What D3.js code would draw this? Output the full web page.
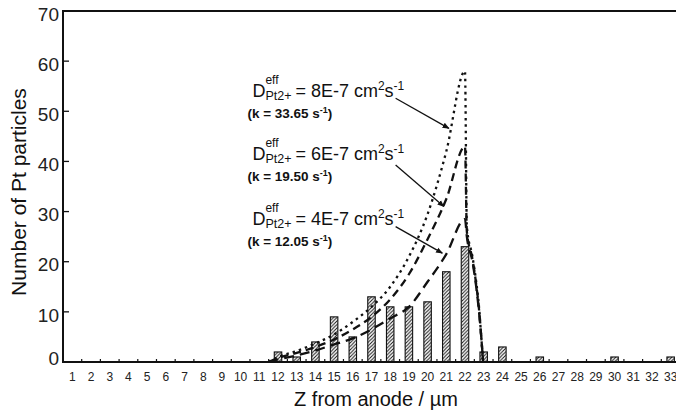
<!DOCTYPE html>
<html>
<head>
<meta charset="utf-8">
<script src="https://cdn.jsdelivr.net/npm/d3@7"></script>
<style>
  html, body { margin: 0; padding: 0; background: #fff; }
  svg { display: block; font-family: Arial, "Liberation Sans", Helvetica, sans-serif; }
</style>
</head>
<body>
<svg id="chart" width="676" height="413"></svg>
<script>
// Z positions (µm from anode) shown on the axis
const zLabels = [1,2,3,4,5,6,7,8,9,10,11,12,13,14,15,16,17,18,19,20,21,22,23,24,25,26,27,28,29,30,31,32,33];
const yTicks = [0,10,20,30,40,50,60,70];

// Histogram of counted Pt particles
const barZ     = [12,13,14,15,16,17,18,19,20,21,22,23,24,26,30,33];
const barCount = [ 2, 1, 4, 9, 5,13,11,11,12,18,23, 2, 3, 1, 1, 1];

// Simulated particle profiles for three effective diffusivities
const curveZ  = [11.5, 12, 13, 14, 15, 16, 17, 18, 19, 20, 21, 22, 22.1, 22.4, 22.6, 22.75, 22.87, 22.97];
const curveD8 = [0, 1.0, 2.2, 3.7, 5.5, 8.0, 11.0, 15.0, 21.0, 29.5, 42.0, 58.0, 27, 21, 16, 11, 5, 0];
const curveD6 = [0, 0.8, 1.8, 3.0, 4.5, 6.5, 9.0, 12.5, 17.5, 24.5, 32.5, 43.0, 26, 20.5, 15.5, 10.5, 5, 0];
const curveD4 = [0, 0.5, 1.3, 2.3, 3.5, 4.7, 6.5, 8.7, 11.0, 16.0, 21.5, 28.5, 25, 20, 15, 10, 5, 0];

// Annotation labels: diffusivity, rate constant, text anchor and arrow (data units)
const annDiff  = ["8E-7", "6E-7", "4E-7"];
const annK     = ["33.65", "19.50", "12.05"];
const annTextZ = [10.63, 10.63, 10.63];
const annTextV = [52.9, 40.3, 27.3];
const annFromZ = [18.29, 18.29, 18.29];
const annFromV = [52.6, 39.3, 27.0];
const annToZ   = [21.14, 20.87, 20.79];
const annToV   = [46.6, 31.0, 21.7];

const svg = d3.select("#chart");
const plotLeft = 63, plotRight = 680, plotTop = 11, plotBottom = 362;

const x = d3.scaleBand().domain(zLabels).range([plotLeft, plotRight]).paddingInner(0.6).paddingOuter(0.3);
const step = x.step();
const xc = d3.scaleLinear()
  .domain([1, 33])
  .range([x(1) + x.bandwidth() / 2, x(33) + x.bandwidth() / 2]);
const y = d3.scaleLinear().domain([0, 70]).range([plotBottom, plotTop]);

// hatch pattern for the bars
const defs = svg.append("defs");
const pat = defs.append("pattern")
  .attr("id", "hatch").attr("patternUnits", "userSpaceOnUse")
  .attr("width", 3.5).attr("height", 3.5);
pat.append("rect").attr("width", 3.5).attr("height", 3.5).attr("fill", "#fff");
pat.append("path")
  .attr("d", "M-1,1 l2,-2 M0,3.5 l3.5,-3.5 M2.5,4.5 l2,-2")
  .attr("stroke", "#111").attr("stroke-width", 1);

defs.append("marker")
  .attr("id", "arrow").attr("viewBox", "0 0 10 10")
  .attr("refX", 9).attr("refY", 5)
  .attr("markerWidth", 7).attr("markerHeight", 7)
  .attr("markerUnits", "userSpaceOnUse")
  .attr("orient", "auto")
  .append("path").attr("d", "M0,1 L10,5 L0,9 Z").attr("fill", "#111");

// bars
svg.append("g").selectAll("rect")
  .data(barZ.map((z, i) => ({ z, n: barCount[i] })))
  .join("rect")
  .attr("x", d => x(d.z))
  .attr("width", x.bandwidth())
  .attr("y", d => y(d.n))
  .attr("height", d => y(0) - y(d.n))
  .attr("fill", "url(#hatch)")
  .attr("stroke", "#111")
  .attr("stroke-width", 1.1);

// model curves
const line = d3.line()
  .x(d => xc(d[0]))
  .y(d => y(d[1]))
  .curve(d3.curveMonotoneX);

const curves = [
  { v: curveD8, dash: "2.5,4" },
  { v: curveD6, dash: "8,5" },
  { v: curveD4, dash: "10,6" }
];
svg.append("g").selectAll("path")
  .data(curves)
  .join("path")
  .attr("d", c => line(curveZ.map((z, i) => [z, c.v[i]])))
  .attr("fill", "none")
  .attr("stroke", "#111")
  .attr("stroke-width", 2.3)
  .attr("stroke-dasharray", c => c.dash);

// axes frame
svg.append("line").attr("x1", plotLeft).attr("x2", 676).attr("y1", plotTop).attr("y2", plotTop)
  .attr("stroke", "#111").attr("stroke-width", 2);
svg.append("line").attr("x1", plotLeft).attr("x2", plotLeft).attr("y1", plotTop - 1).attr("y2", plotBottom + 1)
  .attr("stroke", "#111").attr("stroke-width", 2);
svg.append("line").attr("x1", plotLeft - 1).attr("x2", 676).attr("y1", plotBottom).attr("y2", plotBottom)
  .attr("stroke", "#111").attr("stroke-width", 2);

// y ticks (inward) and labels
const gy = svg.append("g");
gy.selectAll("line").data(yTicks.filter(t => t > 0 && t < 70)).join("line")
  .attr("x1", plotLeft).attr("x2", plotLeft + 6)
  .attr("y1", d => y(d)).attr("y2", d => y(d))
  .attr("stroke", "#111").attr("stroke-width", 1.3);
gy.selectAll("text").data(yTicks).join("text")
  .attr("x", 59)
  .attr("y", d => d === 0 ? y(d) - 4 : y(d) + 3)
  .attr("dy", "0.35em")
  .attr("text-anchor", "end")
  .attr("font-size", 19)
  .attr("fill", "#222")
  .text(d => d);

// x ticks at category boundaries (inward) and labels
const gx = svg.append("g");
gx.selectAll("line").data(zLabels.slice(1)).join("line")
  .attr("x1", d => x(d) - step * 0.3).attr("x2", d => x(d) - step * 0.3)
  .attr("y1", plotBottom).attr("y2", plotBottom - 3)
  .attr("stroke", "#111").attr("stroke-width", 1.2);
gx.selectAll("text").data(zLabels).join("text")
  .attr("x", d => x(d) + x.bandwidth() / 2)
  .attr("y", 381)
  .attr("text-anchor", "middle")
  .attr("font-size", 12)
  .attr("fill", "#222")
  .text(d => d);

// axis titles
svg.append("text")
  .attr("x", 376).attr("y", 406)
  .attr("text-anchor", "middle")
  .attr("font-size", 20)
  .attr("fill", "#111")
  .text("Z from anode / µm");
svg.append("text")
  .attr("transform", "translate(26,192) rotate(-90)")
  .attr("text-anchor", "middle")
  .attr("font-size", 21)
  .attr("fill", "#111")
  .text("Number of Pt particles");

// annotations: D with stacked super/subscript, value, rate constant, arrow
annDiff.forEach((dv, i) => {
  const tx = xc(annTextZ[i]), ty = y(annTextV[i]);
  const g = svg.append("g").attr("fill", "#111");
  const t = g.append("text").attr("x", tx).attr("y", ty).attr("font-size", 18);
  t.append("tspan").text("D");
  t.append("tspan").attr("x", tx + 13).attr("y", ty - 13).attr("font-size", 12).text("eff");
  t.append("tspan").attr("x", tx + 13).attr("y", ty + 3).attr("font-size", 12.5).text("Pt2+");
  t.append("tspan").attr("x", tx + 43).attr("y", ty).text("= " + dv + " cm");
  t.append("tspan").attr("font-size", 12).attr("dy", -7).text("2");
  t.append("tspan").attr("dy", 7).text("s");
  t.append("tspan").attr("font-size", 12).attr("dy", -7).text("-1");

  const k = g.append("text").attr("x", tx - 5).attr("y", ty + 21)
    .attr("font-size", 13.5).attr("font-weight", "bold");
  k.append("tspan").text("(k = " + annK[i] + " s");
  k.append("tspan").attr("font-size", 9).attr("dy", -5).text("-1");
  k.append("tspan").attr("dy", 5).text(")");

  svg.append("line")
    .attr("x1", xc(annFromZ[i])).attr("y1", y(annFromV[i]))
    .attr("x2", xc(annToZ[i])).attr("y2", y(annToV[i]))
    .attr("stroke", "#111").attr("stroke-width", 1.3)
    .attr("marker-end", "url(#arrow)");
});
</script>
</body>
</html>
